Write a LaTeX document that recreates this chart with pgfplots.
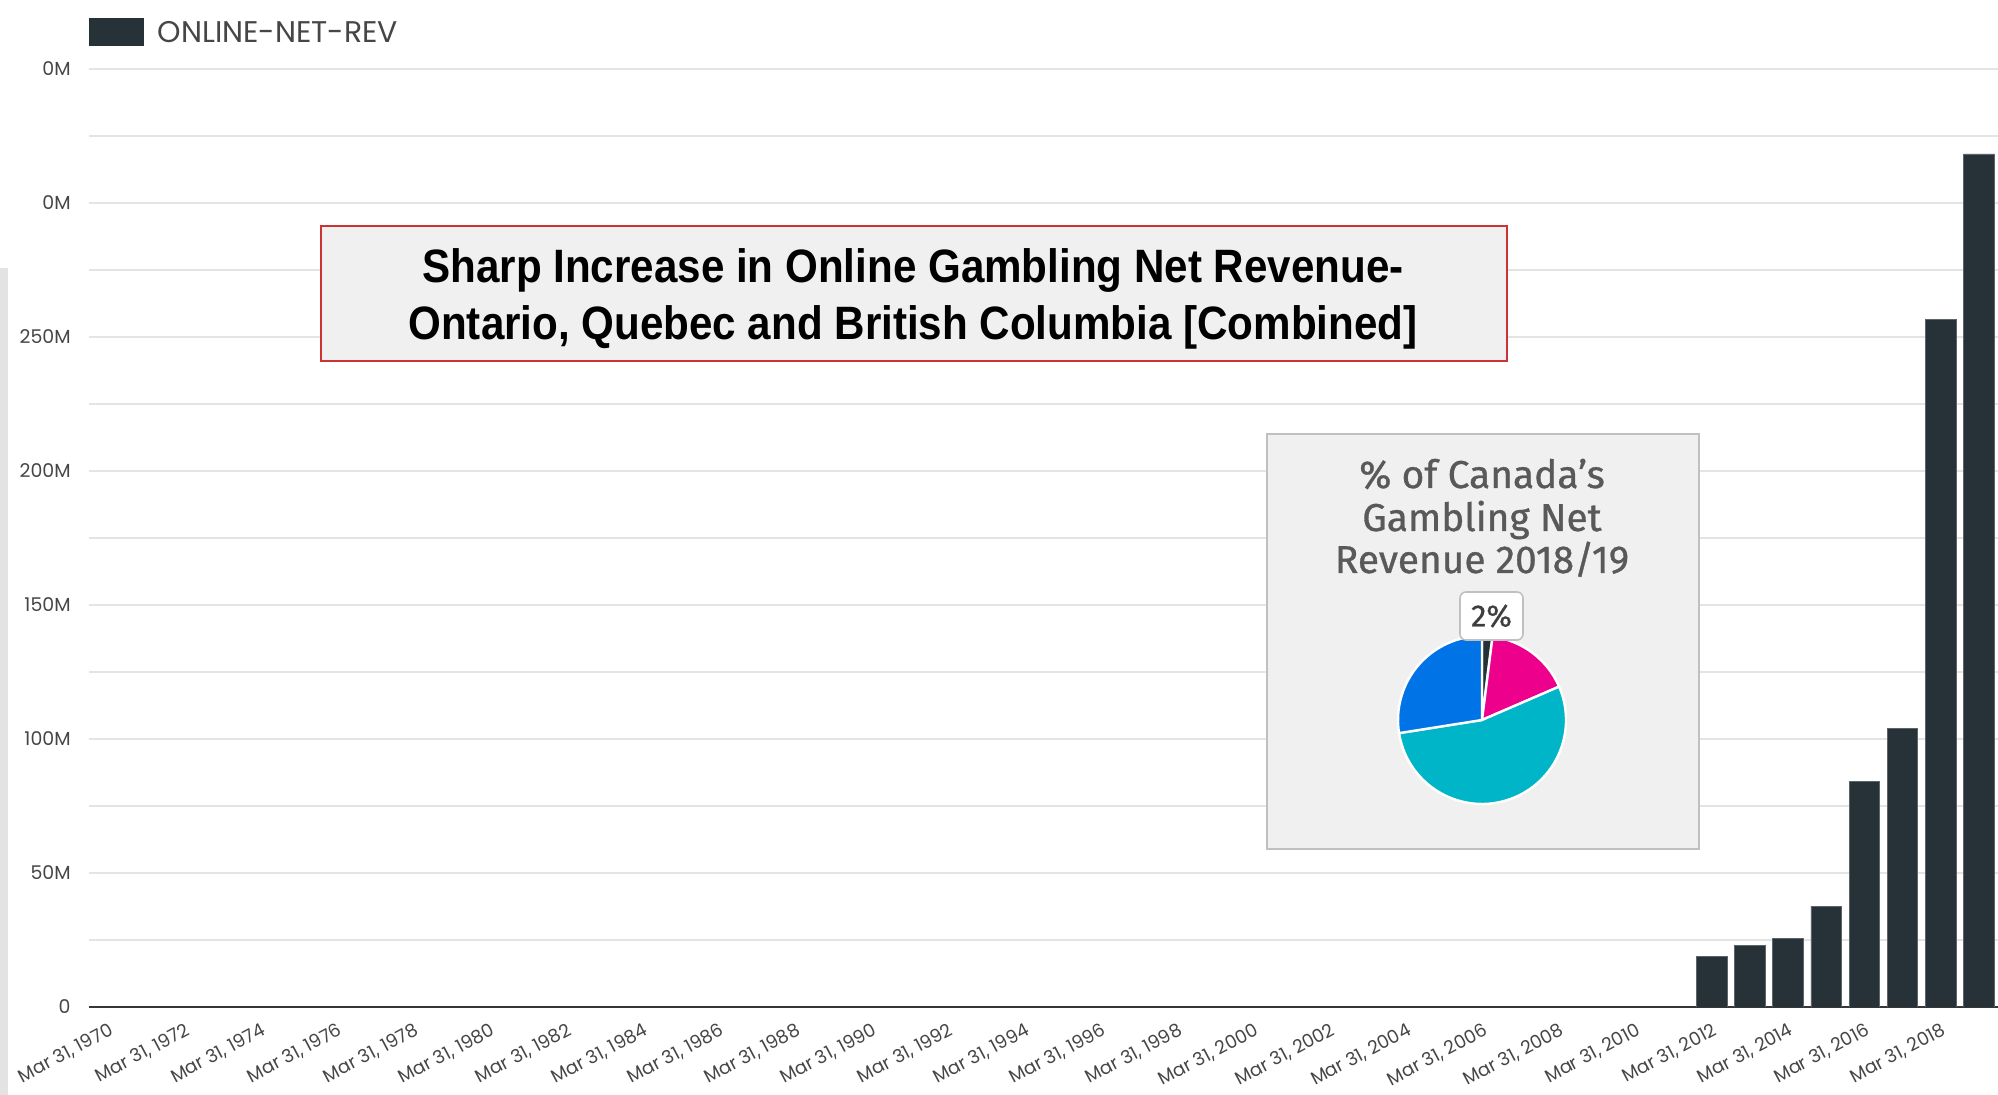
\documentclass[border=0pt]{standalone}
\usepackage{pgfplots}
\pgfplotsset{compat=1.18}
\usepackage{fontspec}
\setmainfont{Poppins}
\newfontfamily\titlefont[FakeStretch=0.9]{Liberation Sans}
\newfontfamily\piefont[FakeBold=0.8]{Fira Sans}
\definecolor{barc}{RGB}{38,50,56}
\definecolor{gridc}{RGB}{228,228,228}
\definecolor{axc}{RGB}{55,55,55}
\definecolor{labc}{RGB}{70,70,70}
\definecolor{boxfill}{RGB}{240,240,240}
\definecolor{boxred}{RGB}{204,51,51}
\definecolor{boxgray}{RGB}{192,192,192}
\definecolor{piemag}{RGB}{236,0,140}
\definecolor{pieteal}{RGB}{0,181,200}
\definecolor{pieblue}{RGB}{0,115,230}
\definecolor{pietext}{RGB}{89,89,89}
\begin{document}
\begin{tikzpicture}
\useasboundingbox[fill=white] (0,0) rectangle (999bp,547.5bp);
\fill[gray!22] (0,0) rectangle (4bp,413.5bp);
\begin{axis}[
  at={(44.5bp,44bp)}, anchor=south west,
  scale only axis, width=954.5bp, height=469bp,
  xmin=-0.5, xmax=49.5, ymin=0, ymax=350,
  axis x line=bottom, axis y line=left,
  axis line style={-},
  x axis line style={draw=axc, line width=1.2bp},
  y axis line style={draw=none},
  tick style={draw=none}, major tick length=0pt,
  /pgf/number format/assume math mode=true,
  ytick={0,25,...,350},
  yticklabels={0,{},50M,{},100M,{},150M,{},200M,{},250M,{},0M,{},0M},
  yticklabel style={font=\fontsize{9.5}{11}\selectfont, text=labc, anchor=east, inner sep=0pt, xshift=-9bp},
  ymajorgrids, grid style={draw=gridc, line width=0.75bp},
  xtick={0,2,...,48},
  xticklabels={{Mar 31, 1970},{Mar 31, 1972},{Mar 31, 1974},{Mar 31, 1976},{Mar 31, 1978},{Mar 31, 1980},{Mar 31, 1982},{Mar 31, 1984},{Mar 31, 1986},{Mar 31, 1988},{Mar 31, 1990},{Mar 31, 1992},{Mar 31, 1994},{Mar 31, 1996},{Mar 31, 1998},{Mar 31, 2000},{Mar 31, 2002},{Mar 31, 2004},{Mar 31, 2006},{Mar 31, 2008},{Mar 31, 2010},{Mar 31, 2012},{Mar 31, 2014},{Mar 31, 2016},{Mar 31, 2018}},
  xticklabel style={font=\fontsize{9.2}{10}\selectfont, text=labc, rotate=28, anchor=north east, inner sep=0pt, yshift=-6.5bp, xshift=-3.5bp},
  legend style={at={(0,1)}, anchor=south west, draw=none, fill=none, inner sep=0pt, outer sep=0pt, yshift=11.5bp, font=\fontsize{15}{17}\selectfont, text=labc, /tikz/every odd column/.append style={column sep=5bp}},
  legend image code/.code={\fill[barc] (0bp,-6.75bp) rectangle (27bp,6.75bp);},
]
\addplot[ybar, bar width=0.8, fill=barc, draw=barc!75!white, line width=0.4bp] coordinates {(42,18.8) (43,22.9) (44,25.5) (45,37.5) (46,84.3) (47,103.8) (48,256.6) (49,318.3)};
\addlegendentry{\raisebox{-1.5bp}{ONLINE-NET-REV}}
\end{axis}
% title box
\node[draw=boxred, fill=boxfill, line width=1bp, minimum width=593bp, minimum height=67.5bp, inner sep=0pt, anchor=south west] at (160bp,366.5bp) {};
\node[font=\titlefont\bfseries\fontsize{23.5}{28}\selectfont, anchor=base, inner sep=0pt] at (456.5bp,406bp) {Sharp Increase in Online Gambling Net Revenue-};
\node[font=\titlefont\bfseries\fontsize{23.5}{28}\selectfont, anchor=base, inner sep=0pt] at (456.5bp,377.5bp) {Ontario, Quebec and British Columbia [Combined]};
% pie box
\node[draw=boxgray, fill=boxfill, line width=1bp, minimum width=216bp, minimum height=207.5bp, inner sep=0pt, anchor=south west] at (633bp,122.5bp) {};
\node[font=\piefont\fontsize{19.5}{22}\selectfont, text=pietext, anchor=base, inner sep=0pt] at (741bp,303.5bp) {\% of Canada’s};
\node[font=\piefont\fontsize{19.5}{22}\selectfont, text=pietext, anchor=base, inner sep=0pt] at (741bp,282bp) {Gambling Net};
\node[font=\piefont\fontsize{19.5}{22}\selectfont, text=pietext, anchor=base, inner sep=0pt] at (741bp,261bp) {Revenue 2018/19};
\begin{scope}[shift={(741bp,187.5bp)}]
\foreach \a/\b/\c in {0/2/barc, 2/18.5/piemag, 18.5/72.5/pieteal, 72.5/100/pieblue} {
  \pgfmathsetmacro\sa{90-3.6*\a}
  \pgfmathsetmacro\ea{90-3.6*\b}
  \filldraw[fill=\c, draw=white, line width=1.2bp, line join=round] (0,0) -- (\sa:42bp) arc[start angle=\sa, end angle=\ea, radius=42bp] -- cycle;
}
\end{scope}
\node[draw=boxgray, fill=white, rounded corners=3bp, minimum width=31.5bp, minimum height=24bp, inner sep=0pt, line width=0.8bp, font=\piefont\fontsize{15.5}{17}\selectfont, text=pietext!70!black] at (745.75bp,239.5bp) {2\%};
\end{tikzpicture}
\end{document}
